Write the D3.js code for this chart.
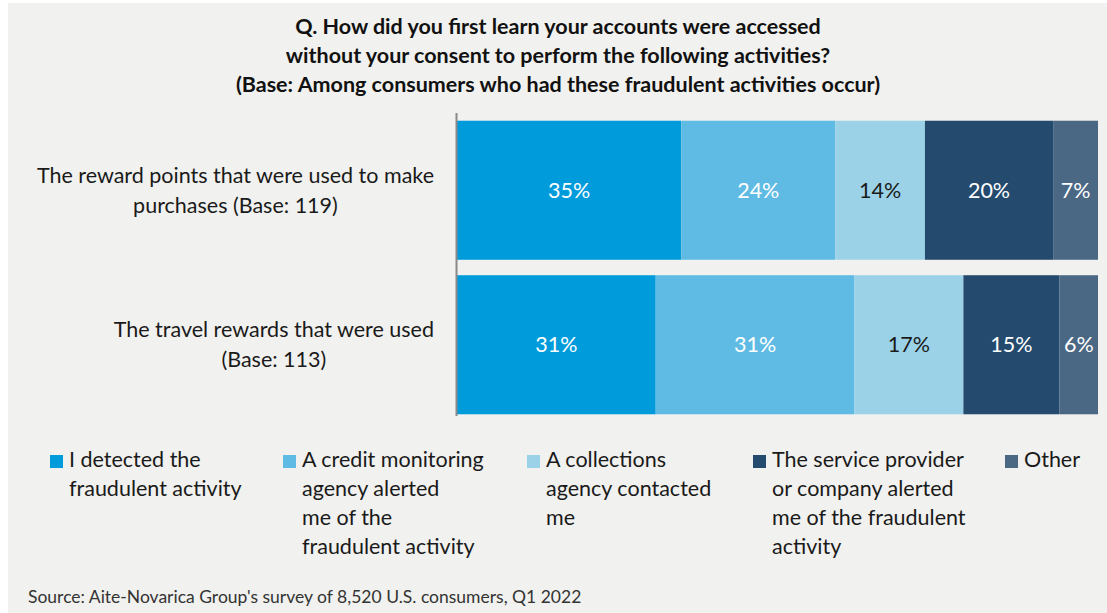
<!DOCTYPE html>
<html>
<head>
<meta charset="utf-8">
<script src="https://cdn.jsdelivr.net/npm/d3@7"></script>
<style>
  html, body { margin: 0; padding: 0; background: #ffffff; }
  svg { display: block; }
  text { font-family: Lato, "Open Sans", sans-serif; }
</style>
</head>
<body>
<svg id="chart" width="1107" height="613"></svg>
<script>
// Survey question and note
const titleLines = [
  "Q. How did you first learn your accounts were accessed",
  "without your consent to perform the following activities?",
  "(Base: Among consumers who had these fraudulent activities occur)"
];
const sourceNote = "Source: Aite-Novarica Group's survey of 8,520 U.S. consumers, Q1 2022";

// Activity categories (one bar each), label lines as printed
const categories = ["points", "travel"];
const categoryLabels = [
  ["The reward points that were used to make", "purchases (Base: 119)"],
  ["The travel rewards that were used", "(Base: 113)"]
];

// Response series, in stacking order
const seriesNames = [
  "I detected the fraudulent activity",
  "A credit monitoring agency alerted me of the fraudulent activity",
  "A collections agency contacted me",
  "The service provider or company alerted me of the fraudulent activity",
  "Other"
];
const legendLines = [
  ["I detected the", "fraudulent activity"],
  ["A credit monitoring", "agency alerted", "me of the", "fraudulent activity"],
  ["A collections", "agency contacted", "me"],
  ["The service provider", "or company alerted", "me of the fraudulent", "activity"],
  ["Other"]
];

// Percent values per series, one entry per category
const detectedSelf    = [35, 31];
const creditMonitor   = [24, 31];
const collections     = [14, 17];
const providerAlerted = [20, 15];
const other           = [7, 6];
const seriesValues = [detectedSelf, creditMonitor, collections, providerAlerted, other];

const colors = ["#009bdb", "#5fbbe3", "#9bd2e7", "#244a6e", "#4a6784"];
const labelColors = ["#ffffff", "#ffffff", "#1a1a1a", "#ffffff", "#ffffff"];

const svg = d3.select("#chart");

// panel background
svg.append("rect")
  .attr("x", 8).attr("y", 3)
  .attr("width", 1107 - 8).attr("height", 613 - 3)
  .attr("fill", "#f1f1ef");

// title
svg.append("g").selectAll("text")
  .data(titleLines)
  .join("text")
  .attr("x", 558)
  .attr("y", (d, i) => 34 + i * 29)
  .attr("text-anchor", "middle")
  .attr("font-size", 21.5)
  .attr("font-weight", 700)
  .attr("fill", "#111")
  .text(d => d);

// stack data
const rows = categories.map((c, ci) => {
  const r = { category: c };
  seriesNames.forEach((s, si) => { r[s] = seriesValues[si][ci]; });
  return r;
});
const stacked = d3.stack().keys(seriesNames)(rows);

const x = d3.scaleLinear().domain([0, 100]).range([457, 1098]);
const y = d3.scaleBand().domain(categories).range([113, 422]).paddingInner(0.1).paddingOuter(0.05);

const groups = svg.append("g").selectAll("g")
  .data(stacked)
  .join("g")
  .attr("fill", (d, i) => colors[i]);

groups.selectAll("rect")
  .data(d => d)
  .join("rect")
  .attr("x", d => x(d[0]))
  .attr("y", d => y(d.data.category))
  .attr("width", d => x(d[1]) - x(d[0]))
  .attr("height", y.bandwidth());

// value labels
groups.each(function (s, si) {
  d3.select(this).selectAll("text")
    .data(s)
    .join("text")
    .attr("x", d => (x(d[0]) + x(d[1])) / 2)
    .attr("y", d => y(d.data.category) + y.bandwidth() / 2)
    .attr("dy", "0.35em")
    .attr("text-anchor", "middle")
    .attr("font-size", 21.5)
    .attr("fill", labelColors[si])
    .text(d => `${d[1] - d[0]}%`);
});

// category axis line
svg.append("line")
  .attr("x1", 456.5).attr("x2", 456.5)
  .attr("y1", 113).attr("y2", 416)
  .attr("stroke", "#8a8a8a")
  .attr("stroke-width", 2);

// category labels: each block centred, right edge near the axis
const catG = svg.append("g");
categories.forEach((c, ci) => {
  const g = catG.append("g");
  const lines = categoryLabels[ci];
  const cy = y(c) + y.bandwidth() / 2;
  const texts = g.selectAll("text")
    .data(lines)
    .join("text")
    .attr("y", (d, i) => cy + (i - (lines.length - 1) / 2) * 30)
    .attr("dy", "0.35em")
    .attr("text-anchor", "middle")
    .attr("font-size", 21.5)
    .attr("fill", "#1a1a1a")
    .text(d => d);
  let maxW = 0;
  texts.each(function () { maxW = Math.max(maxW, this.getComputedTextLength()); });
  texts.attr("x", 434 - maxW / 2);
});

// legend
const legendX = [50, 283, 527, 753, 1005];
const legend = svg.append("g").selectAll("g")
  .data(seriesNames)
  .join("g")
  .attr("transform", (d, i) => `translate(${legendX[i]},0)`);
legend.append("rect")
  .attr("x", 0).attr("y", 455)
  .attr("width", 13).attr("height", 13)
  .attr("fill", (d, i) => colors[i]);
legend.each(function (d, i) {
  d3.select(this).selectAll("text")
    .data(legendLines[i])
    .join("text")
    .attr("x", 19)
    .attr("y", (t, k) => 467 + k * 29)
    .attr("font-size", 21.5)
    .attr("fill", "#1a1a1a")
    .text(t => t);
});

// source note
svg.append("text")
  .attr("x", 28).attr("y", 603)
  .attr("font-size", 17.5)
  .attr("fill", "#333")
  .text(sourceNote);
</script>
</body>
</html>
